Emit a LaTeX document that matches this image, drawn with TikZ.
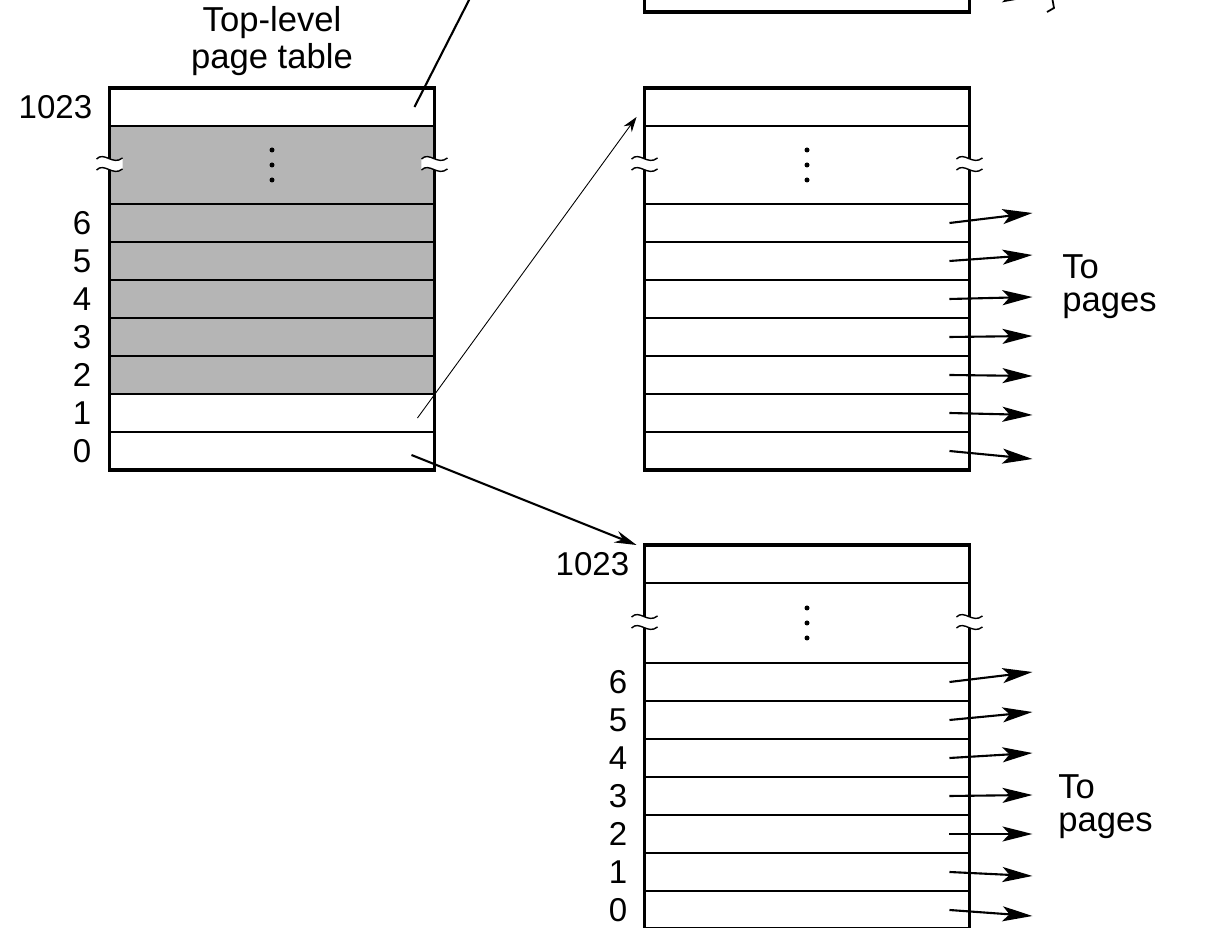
\documentclass[tikz,border=0pt]{standalone}
\usepackage{fontspec}
\setmainfont{Liberation Sans}
\usetikzlibrary{arrows.meta,positioning}
\definecolor{tabgray}{gray}{0.71}
\newcommand{\cutmark}[1]{%
  \begin{scope}[shift={(#1)}]
    \fill[white] (-13,-6) .. controls (-5,-14) and (3,1) .. (13,-7) -- (13,4) .. controls (3,12) and (-5,-3) .. (-13,5) -- cycle;
    \draw[line width=0.8pt] (-13,-6) .. controls (-5,-14) and (3,1) .. (13,-7);
    \draw[line width=0.8pt] (-13,5) .. controls (-5,-3) and (3,12) .. (13,4);
  \end{scope}}

\begin{document}
\begin{tikzpicture}[x=0.02cm, y=-0.02cm,
    row/.style={draw, line width=1.2pt, minimum width=6.5cm, minimum height=0.76cm, inner sep=0pt, outer sep=0pt},
    gaprow/.style={row, minimum height=1.56cm},
    num/.style={font=\fontsize{18.8}{20}\selectfont, inner sep=0pt},
    note/.style={font=\fontsize{19.7}{18.7}\selectfont, inner sep=0pt, align=left},
    ptr/.style={-{Stealth[length=0.6cm, width=0.3cm, inset=0.14cm]}, line width=1.2pt},
    >=Stealth]
    \useasboundingbox (0,0) rectangle (1208,928);
    \clip (0,0) rectangle (1208,928);

    % top-level table
    \node[row] (t1023) at (272,107) {};
    \node[gaprow, fill=tabgray] (tgap) at (272,165) {};
    \foreach \i/\c in {6/tabgray,5/tabgray,4/tabgray,3/tabgray,2/tabgray,1/white,0/white} {
        \node[row, fill=\c] (t\i) at (272,451-38*\i) {};
        \node[num, left=0.36cm of t\i] {\i};
    }
    \node[num, left=0.34cm of t1023] {1023};
    \draw[line width=1.8pt] (t1023.north west) rectangle (t0.south east);
    \node[note, align=center, font=\fontsize{19.7}{21}\selectfont, above=0.24cm of t1023] (ttitle) {Top-level\\page table};

    % second-level tables
    \node[row] (p0) at (807,-7) {};
    \draw[line width=1.8pt] (p0.south west) rectangle ([yshift=2cm]p0.north east);

    \node[row] (m1023) at (807,107) {};
    \node[gaprow] (mgap) at (807,165) {};
    \foreach \i in {0,...,6}
        \node[row] (m\i) at (807,451-38*\i) {};
    \draw[line width=1.8pt] (m1023.north west) rectangle (m0.south east);

    \node[row] (b1023) at (807,564) {};
    \node[gaprow, minimum height=1.6cm] (bgap) at (807,623) {};
    \foreach \i in {0,...,6} {
        \node[row] (b\i) at (807,910-38*\i) {};
        \node[num, left=0.34cm of b\i] {\i};
    }
    \node[num, left=0.3cm of b1023] {1023};
    \draw[line width=1.8pt] (b1023.north west) rectangle (b0.south east);

    \foreach \g in {tgap,mgap,bgap} {
        \cutmark{\g.west}
        \cutmark{\g.east}
        \foreach \dy in {-15,0,15}
            \fill (\g.center) ++(0,\dy) circle (0.05cm);
    }

    % pointers
    \coordinate (pin) at (492,-45);
    \draw[line width=1.2pt, ->] ([xshift=-0.4cm]t1023.east) -- (pin);
    \draw[line width=0.5pt, -{Stealth[length=0.3cm, width=0.2cm]}] ([shift={(-0.34cm,-0.1cm)}]t1.east) -- ([shift={(-0.16cm,-0.2cm)}]m1023.west);
    \draw[line width=1.2pt, -{Stealth[length=0.44cm, width=0.24cm]}] ([shift={(-0.46cm,-0.08cm)}]t0.east) -- ([xshift=-0.16cm]b1023.north west);

    \draw[ptr] ([shift={(-0.4cm,0.04cm)}]p0.east) -- ([shift={(1.26cm,-0.08cm)}]p0.east);
    \draw[line width=1pt] (1052,-3) -- (1054,8) -- (1047,12);
    \foreach \i/\dy in {6/10,5/6,4/2,3/1,2/-1,1/-2,0/-8}
        \draw[ptr] ([xshift=-0.4cm]m\i.east) -- ([shift={(1.26cm,\dy*0.02cm)}]m\i.east);
    \foreach \i/\dy in {6/10,5/8,4/5,3/1,2/0,1/-4,0/-6}
        \draw[ptr] ([xshift=-0.4cm]b\i.east) -- ([shift={(1.26cm,\dy*0.02cm)}]b\i.east);

    \node[note, anchor=north west] (mnote) at (1062,254) {To\\pages};
    \node[note, anchor=north west] (bnote) at (1058,774) {To\\pages};
\end{tikzpicture}
\end{document}
